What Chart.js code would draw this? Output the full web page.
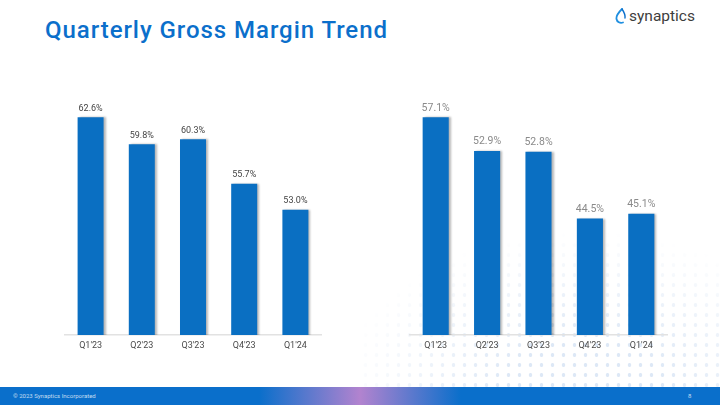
<!DOCTYPE html>
<html>
<head>
<meta charset="utf-8">
<script src="https://cdn.jsdelivr.net/npm/chart.js@4"></script>
<style>
  body { margin: 0; width: 720px; height: 405px; overflow: hidden; background: #fff; font-family: Roboto, sans-serif; position: relative; }
  .title { position: absolute; left: 45px; top: 16px; font-size: 24px; font-weight: 500; color: #0b6fcb; letter-spacing: 0.95px; }
  .logo { position: absolute; left: 615px; top: 7px; display: flex; align-items: center; }
  .logo span { font-size: 15.5px; color: #3d3d3d; margin-left: 2px; font-weight: 400; }
  .dots { position: absolute; left: 360px; top: 190px; width: 360px; height: 200px;
    background-image: radial-gradient(circle, #dde8f6 1.6px, transparent 2.1px);
    background-size: 11px 10px;
    -webkit-mask-image: radial-gradient(ellipse 85% 100% at 62% 100%, #000 25%, transparent 80%);
    mask-image: radial-gradient(ellipse 85% 100% at 62% 100%, #000 25%, transparent 80%); }
  .chart { position: absolute; top: 80px; height: 275px; }
  #left { left: 60px; width: 270px; }
  #right { left: 405px; width: 270px; }
  .footer { position: absolute; left: 0; top: 387px; width: 720px; height: 18px;
    background: linear-gradient(to right, #0a6fcb 0%, #0a6fcb 36%, #b283cf 50%, #0a6fcb 64%, #0a6fcb 100%); }
  .footer .copy { position: absolute; left: 13px; top: 5px; font-size: 6px; color: rgba(255,255,255,0.75); }
  .footer .page { position: absolute; left: 688px; top: 5px; font-size: 6px; color: rgba(255,255,255,0.75); }
</style>
</head>
<body>
<div class="dots"></div>
<div class="title">Quarterly Gross Margin Trend</div>
<div class="logo">
  <svg width="12" height="16" viewBox="0 0 12 16">
    <path d="M7 1 C3 5 1 8 1.5 11 C2 14 5 15.5 8 14.5" fill="none" stroke="#1f8fe0" stroke-width="1.8" stroke-linecap="round"/>
    <path d="M7 1 C9 4 10.5 7 10 10" fill="none" stroke="#0b6fcb" stroke-width="1.4" stroke-linecap="round"/>
  </svg>
  <span>synaptics</span>
</div>
<div class="chart" id="left"><canvas id="chartLeft"></canvas></div>
<div class="chart" id="right"><canvas id="chartRight"></canvas></div>
<div class="footer"><span class="copy">© 2023 Synaptics Incorporated</span><span class="page">8</span></div>
<script>
const quarters = ["Q1'23", "Q2'23", "Q3'23", "Q4'23", "Q1'24"]
const leftValues = [62.6, 59.8, 60.3, 55.7, 53.0]
const rightValues = [57.1, 52.9, 52.8, 44.5, 45.1]

const barColor = '#0a6fc2'

// shadow on the bars + value labels above them
const barExtras = {
    id: 'barExtras',
    beforeDatasetsDraw(chart) {
        const ctx = chart.ctx
        ctx.save()
        ctx.shadowColor = 'rgba(0,0,0,0.28)'
        ctx.shadowOffsetX = 2
        ctx.shadowOffsetY = 0
        ctx.shadowBlur = 2
    },
    afterDatasetsDraw(chart, args, opts) {
        const ctx = chart.ctx
        ctx.restore()
        ctx.save()
        ctx.font = opts.font
        ctx.fillStyle = opts.color
        ctx.textAlign = 'center'
        ctx.textBaseline = 'bottom'
        const meta = chart.getDatasetMeta(0)
        meta.data.forEach((bar, i) => {
            const v = chart.data.datasets[0].data[i]
            ctx.fillText(v.toFixed(1) + '%', bar.x, bar.y - opts.offset)
        })
        ctx.restore()
    }
}

const makeChart = (id, values, min, max, padLeft, padRight, labelFont, labelColor) => {
    const ctx = document.querySelector(id).getContext('2d')
    return new Chart(ctx, {
        type: 'bar',
        data: {
            labels: quarters,
            datasets: [{
                data: values,
                backgroundColor: barColor,
                categoryPercentage: 1,
                barPercentage: 0.508
            }]
        },
        options: {
            responsive: true,
            maintainAspectRatio: false,
            animation: false,
            layout: { padding: { top: 14, left: padLeft, right: padRight, bottom: 0 } },
            scales: {
                x: {
                    grid: { display: false, drawTicks: false },
                    border: { display: true, color: '#e2e2e2', width: 1.5 },
                    ticks: { color: '#4a4a4a', font: { family: 'Roboto', size: 9 }, padding: 5 },
                    afterFit: (scale) => { scale.height = 20 }
                },
                y: {
                    display: false,
                    min: min,
                    max: max
                }
            },
            plugins: {
                legend: { display: false },
                tooltip: { enabled: false },
                barExtras: { font: labelFont, color: labelColor, offset: 4 }
            }
        },
        plugins: [barExtras]
    })
}

makeChart('#chartLeft', leftValues, 40, 65, 5, 9, '9px Roboto', '#444')
makeChart('#chartRight', rightValues, 30, 60, 5, 8, '10.5px Roboto', '#8a8a8a')
</script>
</body>
</html>
